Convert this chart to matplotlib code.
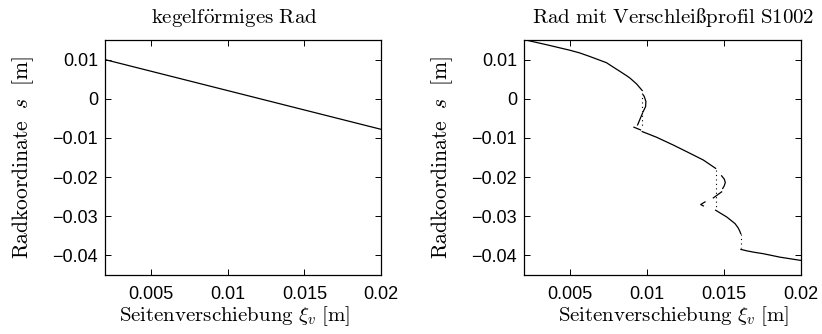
import numpy as np
import matplotlib
matplotlib.use("Agg")
import matplotlib.pyplot as plt
from matplotlib.ticker import FuncFormatter

plt.rcParams['font.family'] = ['Liberation Sans', 'DejaVu Sans']
plt.rcParams['mathtext.fontset'] = 'cm'

# limits / ticks
xi_lim = [0.002, 0.02]
s_lim = [-0.045, 0.015]
xi_ticks = [0.005, 0.01, 0.015, 0.02]
s_ticks = [0.01, 0, -0.01, -0.02, -0.03, -0.04]

# left: conical wheel
cone_xi = [0.002, 0.02]
cone_s = [0.0100, -0.0078]

# right: worn profile S1002, solid branches
wear1_xi = [0.0020, 0.00346, 0.00497, 0.00562, 0.00627, 0.00736, 0.00779, 0.00823,
            0.00866, 0.00888, 0.00931, 0.00942, 0.00968]
wear1_s = [0.0151, 0.0138, 0.0124, 0.0117, 0.0108, 0.0092, 0.0081, 0.0070,
           0.0059, 0.0053, 0.0038, 0.0033, 0.0021]
wear2_xi = [0.00968, 0.01061, 0.01169, 0.01278, 0.01365, 0.01445]
wear2_s = [-0.00838, -0.00982, -0.0118, -0.01392, -0.01564, -0.01777]
wear3_xi = [0.01445, 0.01517, 0.01571, 0.01592, 0.01603, 0.01608]
wear3_s = [-0.02846, -0.03018, -0.03187, -0.03300, -0.03390, -0.03444]
wear4_xi = [0.01609, 0.01650, 0.01700, 0.01755, 0.01863, 0.0200]
wear4_s = [-0.03846, -0.03885, -0.03922, -0.03956, -0.04044, -0.04128]

# short fragments near the jumps
frag_xi = [
    [0.00974, 0.00981, 0.00992, 0.00990, 0.00974],
    [0.00970, 0.00938],
    [0.00914, 0.00957],
    [0.01484, 0.01501, 0.01508, 0.01501, 0.01491],
    [0.01484, 0.01430],
    [0.01376, 0.01348, 0.01365],
]
frag_s = [
    [0.0010, 0.0006, -0.0007, -0.0020, -0.0033],
    [-0.00367, -0.00667],
    [-0.00726, -0.00795],
    [-0.01967, -0.02051, -0.02136, -0.02223, -0.02290],
    [-0.02377, -0.02531],
    [-0.02633, -0.02700, -0.02736],
]

# dotted vertical jumps
jump_xi = [0.00968, 0.01445, 0.01608]
jump_top = [0.0015, -0.0182, -0.0345]
jump_bot = [-0.0071, -0.0285, -0.0382]


def fmt(v, pos):
    return ("%g" % round(v, 4)).replace('-', '\u2212')


def style(ax, title, xlab_x):
    ax.set_xlim(xi_lim)
    ax.set_ylim(s_lim)
    ax.set_xticks(xi_ticks)
    ax.set_yticks(s_ticks)
    ax.xaxis.set_major_formatter(FuncFormatter(fmt))
    ax.yaxis.set_major_formatter(FuncFormatter(fmt))
    ax.tick_params(direction='in', top=True, right=True, length=4, width=0.7,
                   labelsize=13)
    ax.tick_params(axis='x', pad=8)
    ax.tick_params(axis='y', pad=5)
    for sp in ax.spines.values():
        sp.set_linewidth(0.9)
    ax.set_title(r'$\mathrm{' + title + '}$', fontsize=15, pad=12)
    ax.title.set_x(xlab_x)
    ax.set_xlabel(r'$\mathrm{Seitenverschiebung}\ \xi_v\ [\mathrm{m}]$', fontsize=15)
    ax.set_ylabel(r'$\mathrm{Radkoordinate}\ \ s\ \ [\mathrm{m}]$', fontsize=15.5)
    ax.xaxis.set_label_coords(xlab_x, -0.125)
    ax.yaxis.set_label_coords(-0.25, 0.5)


fig = plt.figure(figsize=(8.22, 3.34), dpi=100)
ax1 = fig.add_axes([0.1277, 0.1766, 0.3358, 0.7036])
ax2 = fig.add_axes([0.6375, 0.1766, 0.3370, 0.7036])

ax1.plot(cone_xi, cone_s, color='black', lw=0.9)
style(ax1, r'kegelf\ddot{o}rmiges\ Rad', 0.47)

for xs, ys in [(wear1_xi, wear1_s), (wear2_xi, wear2_s), (wear3_xi, wear3_s), (wear4_xi, wear4_s)]:
    ax2.plot(xs, ys, color='black', lw=0.9)
for xs, ys in zip(frag_xi, frag_s):
    ax2.plot(xs, ys, color='black', lw=0.9)
for x, t, b in zip(jump_xi, jump_top, jump_bot):
    ax2.plot([x, x], [t, b], color='black', lw=0.8, linestyle=(0, (1, 3)))
style(ax2, r'Rad\ mit\ Verschlei\ss profil\ S1002', 0.54)

fig.savefig('out.png', dpi=100)
